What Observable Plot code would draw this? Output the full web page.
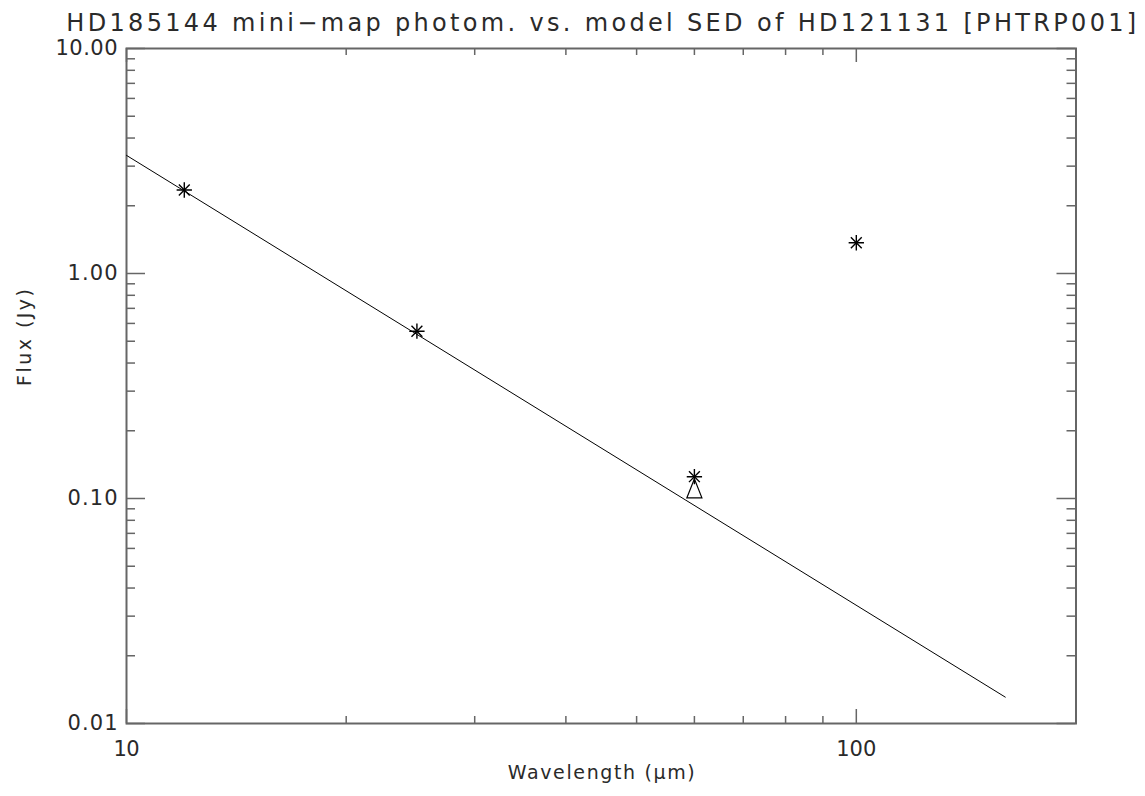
<!DOCTYPE html>
<html>
<head>
<meta charset="utf-8">
<script src="https://cdn.jsdelivr.net/npm/d3@7"></script>
<script src="https://cdn.jsdelivr.net/npm/@observablehq/plot@0.6"></script>
<style>
  html, body { margin: 0; padding: 0; background: white; }
</style>
</head>
<body>
<div id="chart"></div>
<script>
// ---- data ----
const title = "HD185144 mini\u2212map photom. vs. model SED of HD121131 [PHTRP001]";
const xLabel = "Wavelength (\u03bcm)";
const yLabel = "Flux (Jy)";

// mini-map photometry (asterisks)
const photWave = [12, 25, 60, 100];
const photFlux = [2.35, 0.554, 0.125, 1.37];

// model point (triangle)
const modelWave = [60];
const modelFlux = [0.111];

// model SED line
const sedWave = [10, 160];
const sedFlux = [3.35, 0.0131];

// axis ticks
const xMajorTicks = [10, 100];
const xTickLabels = ["10", "100"];
const xMinorTicks = [20, 30, 40, 50, 60, 70, 80, 90, 200];
const yMajorTicks = [0.01, 0.1, 1, 10];
const yTickLabels = ["0.01", "0.10", "1.00", "10.00"];
const yMinorTicks = [0.02, 0.03, 0.04, 0.05, 0.06, 0.07, 0.08, 0.09,
                     0.2, 0.3, 0.4, 0.5, 0.6, 0.7, 0.8, 0.9,
                     2, 3, 4, 5, 6, 7, 8, 9];

// ---- layout ----
const W = 1145, H = 796;
const mL = 126, mR = 69.5, mT = 48, mB = 73;
const FW = W - mL - mR, FH = H - mT - mB;
const axisColor = "#666";
const textColor = "#2a2a2a";

const phot = photWave.map((w, i) => ({w, f: photFlux[i]}));
const model = modelWave.map((w, i) => ({w, f: modelFlux[i]}));
const sed = sedWave.map((w, i) => ({w, f: sedFlux[i]}));

// IDL-style tall open triangle
const tallTriangle = {
  draw(context, size) {
    const r = Math.sqrt(size / Math.PI);
    const h = r * 1.27;
    context.moveTo(-r, h);
    context.lineTo(0, -h);
    context.lineTo(r, h);
    context.closePath();
  }
};

const chart = Plot.plot({
  width: W, height: H,
  marginLeft: mL, marginRight: mR, marginTop: mT, marginBottom: mB,
  x: {type: "log", domain: [10, 200]},
  y: {type: "log", domain: [0.01, 10]},
  style: {fontFamily: "DejaVu Sans", fontSize: "21px", color: textColor, background: "white", overflow: "visible"},
  marks: [
    // ticks (inward, mirrored)
    Plot.ruleX(xMajorTicks, {x: d => d, insetTop: FH - 14, stroke: axisColor, strokeWidth: 1.5}),
    Plot.ruleX(xMajorTicks, {x: d => d, insetBottom: FH - 14, stroke: axisColor, strokeWidth: 1.5}),
    Plot.ruleX(xMinorTicks, {x: d => d, insetTop: FH - 7, stroke: axisColor, strokeWidth: 1.5}),
    Plot.ruleX(xMinorTicks, {x: d => d, insetBottom: FH - 7, stroke: axisColor, strokeWidth: 1.5}),
    Plot.ruleY(yMajorTicks, {y: d => d, insetRight: FW - 19, stroke: axisColor, strokeWidth: 1.5}),
    Plot.ruleY(yMajorTicks, {y: d => d, insetLeft: FW - 19, stroke: axisColor, strokeWidth: 1.5}),
    Plot.ruleY(yMinorTicks, {y: d => d, insetRight: FW - 9, stroke: axisColor, strokeWidth: 1.5}),
    Plot.ruleY(yMinorTicks, {y: d => d, insetLeft: FW - 9, stroke: axisColor, strokeWidth: 1.5}),
    Plot.frame({stroke: axisColor, strokeWidth: 2}),
    // tick labels
    Plot.axisX({ticks: xMajorTicks, tickSize: 0, tickPadding: 18, fontSize: 21, className: "xtl",
      tickFormat: d => xTickLabels[xMajorTicks.indexOf(d)], label: null}),
    Plot.axisY({ticks: yMajorTicks, tickSize: 0, tickPadding: 9, fontSize: 21, className: "ytl",
      tickFormat: d => yTickLabels[yMajorTicks.findIndex(t => Math.abs(t - d) < 1e-9)], label: null}),
    // model SED line
    Plot.line(sed, {x: "w", y: "f", stroke: "black", strokeWidth: 1}),
    // photometry asterisks (8-armed)
    Plot.dot(phot, {x: "w", y: "f", symbol: "plus", r: 5, stroke: "black", strokeWidth: 1.4}),
    Plot.dot(phot, {x: "w", y: "f", symbol: "times", r: 5, stroke: "black", strokeWidth: 1.4}),
    // model point triangle
    Plot.dot(model, {x: "w", y: "f", symbol: tallTriangle, r: 7.5, stroke: "black", fill: "none", strokeWidth: 1.2}),
    // titles
    Plot.text([title], {frameAnchor: "top", dy: -35, fontSize: 24, fill: textColor, className: "ttl"}),
    Plot.text([xLabel], {frameAnchor: "bottom", dy: 55, fontSize: 19, fill: textColor, className: "xlab"}),
    Plot.text([yLabel], {frameAnchor: "left", dx: -102, rotate: -90, fontSize: 19, fill: textColor, className: "ylab"})
  ]
});

document.getElementById("chart").appendChild(chart);

// stretch labels to the reference's wide Hershey-like spacing
function stretchText(t, len) {
  t.setAttribute("textLength", len);
  t.setAttribute("lengthAdjust", "spacing");
}
chart.querySelectorAll("g.ttl text").forEach(t => stretchText(t, 1070));
chart.querySelectorAll("g.xlab text").forEach(t => stretchText(t, 187));
chart.querySelectorAll("g.ylab text").forEach(t => stretchText(t, 97));
const tickLen = {"10.00": 62, "1.00": 50, "0.10": 50, "0.01": 50, "10": 26, "100": 40};
chart.querySelectorAll("text").forEach(t => {
  const s = t.textContent;
  if (t.closest("g.ttl, g.xlab, g.ylab")) return;
  if (tickLen[s] !== undefined) stretchText(t, tickLen[s]);
});
</script>
</body>
</html>
